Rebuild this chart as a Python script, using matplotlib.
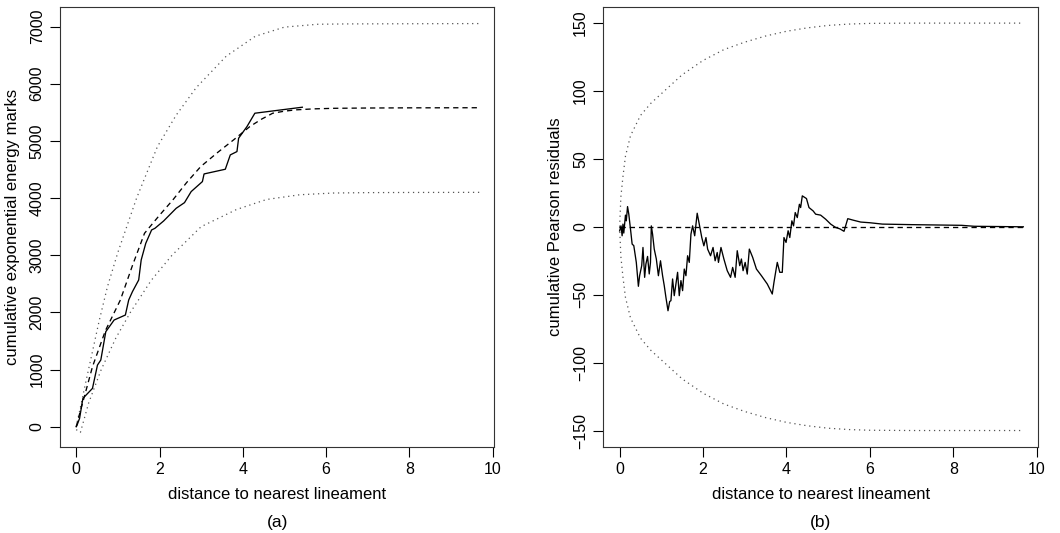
import matplotlib
matplotlib.use('Agg')
import matplotlib.pyplot as plt

plt.rcParams['font.family'] = ['Liberation Sans', 'DejaVu Sans']

###############################################################################
# (a) cumulative exponential energy marks
###############################################################################
# observed cumulative marks (solid)
obs_x = [0.0, 0.02, 0.08, 0.16, 0.39, 0.51, 0.59, 0.71, 0.91, 1.18, 1.26, 1.35,
         1.50, 1.56, 1.67, 1.81, 1.89, 2.10, 2.40, 2.60, 2.76, 3.03, 3.07, 3.58,
         3.70, 3.86, 3.90, 4.10, 4.29, 5.43]
obs_y = [0, 29, 146, 496, 671, 1079, 1167, 1663, 1867, 1954, 2217, 2363,
         2567, 2917, 3209, 3442, 3471, 3600, 3821, 3920, 4113, 4288, 4422, 4504,
         4755, 4813, 5047, 5250, 5484, 5589]

# expected (dashed)
exp_x = [0.0, 0.1, 0.2, 0.39, 0.7, 1.06, 1.35, 1.64, 2.0, 2.32, 2.65, 2.99, 3.4,
         3.78, 4.17, 4.45, 4.72, 5.0, 5.28, 5.7, 6.2, 7.0, 8.0, 9.68]
exp_y = [0, 280, 540, 1050, 1680, 2217, 2820, 3384, 3700, 3967, 4270, 4551, 4800,
         5018, 5251, 5380, 5484, 5520, 5543, 5560, 5570, 5575, 5578, 5580]

# envelope (dotted)
up_x = [0.0, 0.25, 0.55, 0.75, 1.0, 1.45, 1.95, 2.4, 2.88, 3.6, 4.3, 5.0,
        5.8, 6.5, 7.5, 8.5, 9.68]
up_y = [0, 850, 1850, 2450, 3050, 4000, 4900, 5450, 5930, 6480, 6830, 6990,
        7040, 7046, 7048, 7050, 7052]
lo_x = [0.0, 0.1, 0.3, 0.6, 0.95, 1.3, 1.8, 2.3, 3.0, 3.85, 4.57, 5.37, 6.17,
        7.0, 8.0, 9.68]
lo_y = [-50, -100, 420, 1000, 1550, 2000, 2560, 3000, 3500, 3800, 3975, 4058, 4088,
        4095, 4098, 4100]

###############################################################################
# (b) cumulative Pearson residuals
###############################################################################
res_x = [0.0, 0.033, 0.06, 0.08, 0.10, 0.14, 0.16, 0.19, 0.22, 0.27, 0.30, 0.34,
         0.40, 0.45, 0.48, 0.53, 0.56, 0.60, 0.63, 0.67, 0.71, 0.74, 0.76, 0.79,
         0.83, 0.88, 0.93, 0.98, 1.03, 1.07, 1.11, 1.16, 1.20, 1.23, 1.27, 1.31,
         1.35, 1.39, 1.43, 1.47, 1.51, 1.55, 1.59, 1.63, 1.67, 1.71, 1.75, 1.80,
         1.86, 1.91, 1.97, 2.02, 2.07, 2.11, 2.18, 2.24, 2.29, 2.34, 2.37, 2.43,
         2.50, 2.58, 2.66, 2.71, 2.77, 2.82, 2.88, 2.92, 2.96, 3.01, 3.06, 3.11,
         3.19, 3.28, 3.40, 3.54, 3.62, 3.66, 3.70, 3.74, 3.78, 3.84, 3.90, 3.94,
         3.99, 4.04, 4.08, 4.13, 4.17, 4.21, 4.26, 4.31, 4.34, 4.38, 4.48, 4.54,
         4.64, 4.70, 4.82, 4.94, 5.06, 5.18, 5.28, 5.38, 5.47, 5.60, 5.78, 6.0,
         6.3, 7.0, 8.2, 8.5, 9.68]
res_y = [-3, 0.7, -6.6, 2.0, -4.6, 8.6, 4.4, 14.9, 9.3, -4.2, -12.7, -13.9,
         -26.2, -43.8, -35.9, -28.6, -15.2, -37.2, -27.4, -21.8, -34.7, -26.2, 0.7, -5.4,
         -16.4, -23.7, -36.0, -25.0, -36.0, -43.3, -51.9, -61.8, -55.0, -54.4, -38.4, -50.7,
         -42.1, -33.5, -50.7, -39.6, -47.0, -31.1, -36.0, -21.3, -26.2, -5.4, 0.7, -6.6,
         10.0, 1.9, -7.9, -14.0, -7.9, -16.4, -21.3, -15.2, -25.0, -18.9, -26.2, -15.2,
         -23.7, -32.3, -37.2, -29.9, -37.2, -17.6, -28.6, -23.7, -32.3, -26.2, -34.8, -16.4,
         -22.5, -31.1, -36.0, -42.1, -47.0, -49.5, -41.0, -33.5, -26.2, -33.5, -33.5, -7.9,
         -11.5, -2.9, -7.9, 4.4, 0.7, 10.5, 6.8, 16.6, 14.2, 22.8, 20.8, 14.2,
         11.7, 9.3, 8.6, 5.6, 2.0, -0.5, -1.5, -3.3, 6.0, 4.9, 3.5, 3.0,
         2.0, 1.6, 1.1, 0.4, 0.0]

env_x = [0.0, 0.03, 0.08, 0.14, 0.26, 0.50, 0.75, 1.0, 1.5, 2.0, 2.5, 3.0, 3.5,
         4.0, 4.5, 5.0, 5.5, 6.0, 7.0, 8.0, 9.68]
env_y = [0, 22, 37, 52, 67, 82, 91, 98, 112, 122.5, 130.5, 136, 140.5,
         144, 146.5, 148.3, 149.3, 149.8, 150, 150, 150]

###############################################################################
# plot
###############################################################################
fig = plt.figure(figsize=(10.6, 5.33), dpi=100)
ax1 = fig.add_axes([0.0566, 0.1617, 0.4097, 0.8255])
ax2 = fig.add_axes([0.5692, 0.1617, 0.4104, 0.8255])

dotted = dict(color='#555555', linestyle=(0, (1, 3)), linewidth=0.9)
dashed = dict(color='black', linestyle=(0, (4, 3)), linewidth=0.95)
solid = dict(color='black', linestyle='-', linewidth=0.95)

ax1.plot(up_x, up_y, **dotted)
ax1.plot(lo_x, lo_y, **dotted)
ax1.plot(exp_x, exp_y, **dashed)
ax1.plot(obs_x, obs_y, **solid)
ax1.set_xlim(-0.39, 10.04)
ax1.set_ylim(-351, 7345)
ax1.set_yticks(range(0, 7001, 1000))
ax1.set_ylabel('cumulative exponential energy marks', fontsize=12, labelpad=7)

ax2.plot(env_x, env_y, **dotted)
ax2.plot(env_x, [-v for v in env_y], **dotted)
ax2.plot([0, 9.68], [0, 0], **dashed)
ax2.plot(res_x, res_y, **solid)
ax2.set_xlim(-0.39, 10.04)
ax2.set_ylim(-162, 162)
ax2.set_yticks(range(-150, 151, 50))
ax2.set_yticklabels(['\u2212150', '\u2212100', '\u221250', '0', '50', '100', '150'])
ax2.set_ylabel('cumulative Pearson residuals', fontsize=12, labelpad=7)

for ax, tag in [(ax1, '(a)'), (ax2, '(b)')]:
    ax.set_xticks([0, 2, 4, 6, 8, 10])
    ax.set_xlabel('distance to nearest lineament', fontsize=12, labelpad=7)
    ax.tick_params(direction='out', length=7, width=0.8, labelsize=11.5, pad=4)
    for lab in ax.get_yticklabels():
        lab.set_rotation(90)
        lab.set_va('center')
    for s in ax.spines.values():
        s.set_linewidth(0.8)
        s.set_color('#333333')
    ax.text(0.5, -0.173, tag, transform=ax.transAxes, ha='center', va='center',
            fontsize=12.5)

fig.savefig('out.png', dpi=100)
